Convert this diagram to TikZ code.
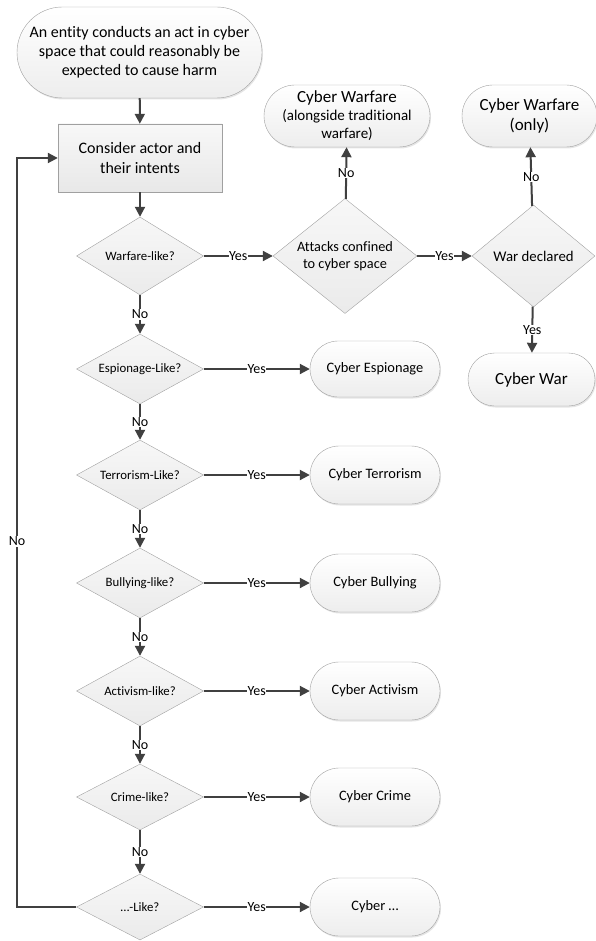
\documentclass[tikz,border=0pt]{standalone}
\usepackage{fontspec}
\setmainfont[Ligatures={NoCommon}]{Carlito}
\usetikzlibrary{shapes.geometric,shapes.misc,arrows.meta,shadows}
\definecolor{linegray}{HTML}{404040}
\definecolor{edgegray}{HTML}{A0A0A0}
\newcommand\ChainX{140}
\newcommand\ResX{375}
\tikzset{
  terminal/.style={
    shape = rounded rectangle,
    draw = edgegray,
    top color = white,
    bottom color = gray!14,
    inner sep = 0pt,
    align = center,
    font = \fontsize{14.4}{17}\selectfont,
    drop shadow = {shadow xshift=1pt, shadow yshift=-1.5pt, fill=gray!50, opacity=0.4}
  },
  process/.style={
    shape = rectangle,
    draw = edgegray,
    top color = gray!6,
    bottom color = gray!18,
    inner sep = 0pt,
    align = center,
    font = \fontsize{16}{20}\selectfont
  },
  decision/.style={
    shape = diamond,
    aspect = 2,
    draw = edgegray,
    top color = gray!6,
    bottom color = gray!16,
    inner sep = 0pt,
    align = center,
    font = \fontsize{12.8}{17}\selectfont
  },
  flow/.style={
    draw = linegray,
    line width = 2pt,
    -{Triangle[length=10pt,width=10pt]}
  },
  lbl/.style={
    fill = white,
    inner sep = 0.5pt,
    text = black,
    font = \fontsize{14}{16}\selectfont
  }
}

\begin{document}
\begin{tikzpicture}[x=1pt,y=-1pt]
    \useasboundingbox (0,0) rectangle (595,941);

    % top of the chart
    \node[terminal, minimum width=245pt, minimum height=91pt, font=\fontsize{16}{19}\selectfont] (start) at (139.5,52.5)
        {An entity conducts an act in cyber\\ space that could reasonably be\\ expected to cause harm};
    \node[process, minimum width=164pt, minimum height=68pt] (consider) at (140,158)
        {Consider actor and\\ their intents};

    % warfare branch
    \node[decision, minimum width=127pt, minimum height=78pt] (warfare) at (\ChainX,256) {Warfare-like?};
    \node[decision, aspect=1.25, minimum width=144pt, minimum height=115pt, font=\fontsize{14.3}{17}\selectfont] (attacks) at (345,256)
        {Attacks confined\\ to cyber space};
    \node[decision, aspect=1.2, minimum width=123pt, minimum height=102pt, font=\fontsize{14.8}{17}\selectfont] (declared) at (533.5,256)
        {War declared};
    \node[terminal, minimum width=166pt, minimum height=62pt, font=\fontsize{15}{18}\selectfont] (alongside) at (347,116)
        {{\fontsize{17}{19}\selectfont Cyber Warfare}\\ (alongside traditional\\ warfare)};
    \node[terminal, minimum width=135pt, minimum height=62pt, font=\fontsize{17}{20}\selectfont] (only) at (529.5,116)
        {Cyber Warfare\\ (only)};
    \node[terminal, minimum width=127pt, minimum height=53pt, font=\fontsize{17}{20}\selectfont] (war) at (531.5,379.5)
        {Cyber War};

    % the other decisions
    \node[decision, minimum width=127pt, minimum height=70pt] (espionage) at (\ChainX,369) {Espionage-Like?};
    \node[decision, minimum width=127pt, minimum height=70pt] (terrorism) at (\ChainX,475) {Terrorism-Like?};
    \node[decision, minimum width=127pt, minimum height=70pt] (bullying) at (\ChainX,583) {Bullying-like?};
    \node[decision, minimum width=127pt, minimum height=70pt] (activism) at (\ChainX,691) {Activism-like?};
    \node[decision, minimum width=127pt, minimum height=66pt] (crime) at (\ChainX,797) {Crime-like?};
    \node[decision, minimum width=127pt, minimum height=66pt] (other) at (\ChainX,907) {\dots-Like?};

    \node[terminal, minimum width=130pt, minimum height=56pt] (espionageR) at (\ResX,369) {Cyber Espionage};
    \node[terminal, minimum width=130pt, minimum height=58pt] (terrorismR) at (\ResX,475) {Cyber Terrorism};
    \node[terminal, minimum width=130pt, minimum height=58pt] (bullyingR) at (\ResX,583) {Cyber Bullying};
    \node[terminal, minimum width=130pt, minimum height=58pt] (activismR) at (\ResX,691) {Cyber Activism};
    \node[terminal, minimum width=130pt, minimum height=58pt] (crimeR) at (\ResX,797) {Cyber Crime};
    \node[terminal, minimum width=130pt, minimum height=58pt] (otherR) at (\ResX,907) {Cyber \dots};

    % connectors
    \draw[flow] (start) -- (consider);
    \draw[flow] (consider) -- (warfare);
    \draw[flow] (warfare) -- node[lbl] (y1) {Yes} (attacks);
    \draw[flow] (attacks) -- node[lbl] (y2) {Yes} (declared);
    \draw[flow] (attacks) -- node[lbl] (n1) {No} (alongside);
    \draw[flow] (declared) -- node[lbl] (n2) {No} (only);
    \draw[flow] (declared) -- node[lbl] (y3) {Yes} (war);

    \draw[flow] (warfare) -- node[lbl] (n3) {No} (espionage);
    \draw[flow] (espionage) -- node[lbl] (n4) {No} (terrorism);
    \draw[flow] (terrorism) -- node[lbl] (n5) {No} (bullying);
    \draw[flow] (bullying) -- node[lbl] (n6) {No} (activism);
    \draw[flow] (activism) -- node[lbl] (n7) {No} (crime);
    \draw[flow] (crime) -- node[lbl] (n8) {No} (other);

    \draw[flow] (espionage) -- node[lbl] (y4) {Yes} (espionageR);
    \draw[flow] (terrorism) -- node[lbl] (y5) {Yes} (terrorismR);
    \draw[flow] (bullying) -- node[lbl] (y6) {Yes} (bullyingR);
    \draw[flow] (activism) -- node[lbl] (y7) {Yes} (activismR);
    \draw[flow] (crime) -- node[lbl] (y8) {Yes} (crimeR);
    \draw[flow] (other) -- node[lbl] (y9) {Yes} (otherR);

    % back to the start
    \coordinate (loop) at (17,907);
    \draw[flow] (other.west) -- (loop) |- node[lbl, pos=0.244] (n9) {No} (consider.west);
\end{tikzpicture}
\end{document}
